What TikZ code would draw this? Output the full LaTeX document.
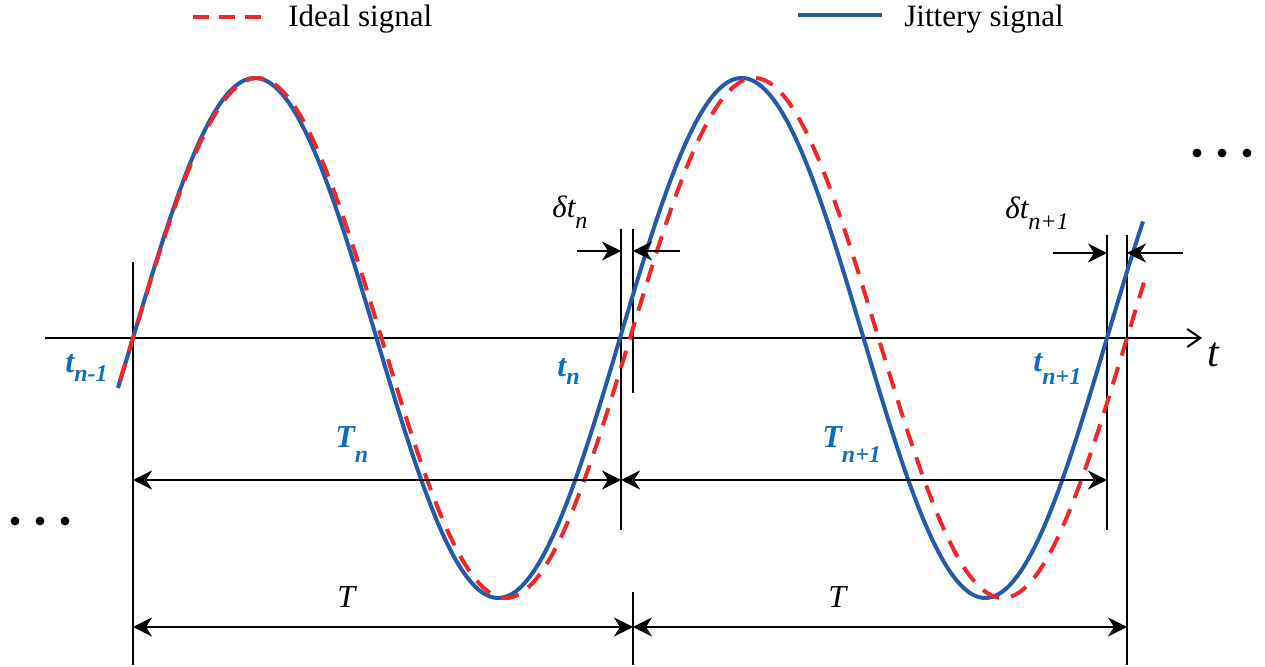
\documentclass[tikz,border=0pt]{standalone}
\usepackage{fontspec}
\setmainfont{Liberation Serif}
\usetikzlibrary{arrows.meta}
\definecolor{sigblue}{RGB}{36,90,170}
\definecolor{lblblue}{RGB}{16,110,190}
\definecolor{sigred}{RGB}{238,40,40}
\begin{document}
\begin{tikzpicture}[x=0.5pt,y=-0.5pt,
  axisline/.style={line width=1pt, black, -{Straight Barb[length=6.5pt,width=9pt]}},
  vline/.style={line width=1pt, black},
  dimline/.style={line width=1pt, black, {Stealth[length=9.5pt,width=9.5pt,inset=3pt]}-{Stealth[length=9.5pt,width=9.5pt,inset=3pt]}},
  pointer/.style={line width=1pt, black, -{Stealth[length=9.5pt,width=9.5pt,inset=3pt]}},
  jitter/.style={line width=2pt, sigblue},
  ideal/.style={line width=2pt, sigred, dash pattern=on 9pt off 6pt},
  blbl/.style={text=lblblue, font=\fontsize{16}{16}\selectfont\bfseries\itshape, inner sep=0pt, anchor=base west},
  klbl/.style={font=\fontsize{15.5}{16}\selectfont\itshape, inner sep=0pt, anchor=base west},
  leg/.style={font=\fontsize{15.5}{16}\selectfont, inner sep=0pt, anchor=base west}]
\useasboundingbox (0,0) rectangle (1265,667);

% legend
\coordinate (lr1) at (193,17); \coordinate (lr2) at (262,17);
\draw[ideal, dash pattern=on 8pt off 5pt] (lr1) -- (lr2);
\node[leg] (lid) at (288,27) {Ideal signal};
\coordinate (lb1) at (798,15); \coordinate (lb2) at (882,15);
\draw[jitter] (lb1) -- (lb2);
\node[leg] (ljit) at (904,27) {Jittery signal};

% axis
\coordinate (a0) at (45,338); \coordinate (a1) at (1202,338);
\draw[axisline] (a0) -- (a1);
\node[klbl, font=\fontsize{21}{21}\selectfont\itshape] (lt) at (1207,367) {t};

% vertical lines
\coordinate (v1t) at (133,262); \coordinate (v1b) at (133,665);
\coordinate (v2t) at (621,229); \coordinate (v2b) at (621,530);
\coordinate (v3t) at (633,229); \coordinate (v3b) at (633,393);
\coordinate (v3c) at (633,592); \coordinate (v3d) at (633,665);
\coordinate (v4t) at (1107,235); \coordinate (v4b) at (1107,530);
\coordinate (v5t) at (1127,235); \coordinate (v5b) at (1127,665);
\draw[vline] (v1t) -- (v1b);
\draw[vline] (v2t) -- (v2b);
\draw[vline] (v3t) -- (v3b);
\draw[vline] (v3c) -- (v3d);
\draw[vline] (v4t) -- (v4b);
\draw[vline] (v5t) -- (v5b);

% signals
\draw[jitter] plot[domain=118:1143, samples=220, smooth] (\x, {338-260*sin((\x-133)/487*360)});
\draw[ideal] plot[domain=120:1144, samples=220, smooth] (\x, {338-260*sin((\x-133)/497*360)});

% period arrows
\coordinate (Tn1) at (133,480); \coordinate (Tn2) at (621,480); \coordinate (Tn3) at (1107,480);
\draw[dimline] (Tn1) -- (Tn2);
\draw[dimline] (Tn2) -- (Tn3);
\coordinate (T1) at (133,627); \coordinate (T2) at (633,627); \coordinate (T3) at (1127,627);
\draw[dimline] (T1) -- (T2);
\draw[dimline] (T2) -- (T3);

% jitter arrows
\coordinate (d1a) at (577,251); \coordinate (d1b) at (621,251);
\coordinate (d1c) at (680,251); \coordinate (d1d) at (633,251);
\draw[pointer] (d1a) -- (d1b);
\draw[pointer] (d1c) -- (d1d);
\coordinate (d2a) at (1053,253); \coordinate (d2b) at (1107,253);
\coordinate (d2c) at (1183,253); \coordinate (d2d) at (1127,253);
\draw[pointer] (d2a) -- (d2b);
\draw[pointer] (d2c) -- (d2d);

% labels
\node[blbl] (ltn1) at (65,373) {t\raisebox{-4.5pt}{\fontsize{12}{12}\selectfont n-1}};
\node[blbl] (ltn) at (557,377) {t\raisebox{-4pt}{\fontsize{12}{12}\selectfont n}};
\node[blbl] (ltn2) at (1033,372) {t\raisebox{-6.5pt}{\fontsize{12}{12}\selectfont n+1}};
\node[blbl] (lTn) at (335,448) {T\raisebox{-7.5pt}{\fontsize{12}{12}\selectfont n}};
\node[blbl] (lTn2) at (822,448) {T\raisebox{-7.5pt}{\fontsize{12}{12}\selectfont n+1}};
\node[klbl, font=\fontsize{16}{16}\selectfont\itshape] (lT1) at (337,608) {T};
\node[klbl, font=\fontsize{16}{16}\selectfont\itshape] (lT2) at (828,608) {T};
\node[klbl] (ld1) at (552,218) {δt\raisebox{-5.5pt}{\fontsize{12}{12}\selectfont n}};
\node[klbl] (ld2) at (1005,219) {δt\raisebox{-5.5pt}{\fontsize{12}{12}\selectfont n+1}};

% continuation dots
\fill (1197,153) circle[radius=2.2pt];
\fill (1222,153) circle[radius=2.2pt];
\fill (1247,153) circle[radius=2.2pt];
\fill (15,521) circle[radius=2.2pt];
\fill (40,521) circle[radius=2.2pt];
\fill (65,521) circle[radius=2.2pt];
\end{tikzpicture}
\end{document}
